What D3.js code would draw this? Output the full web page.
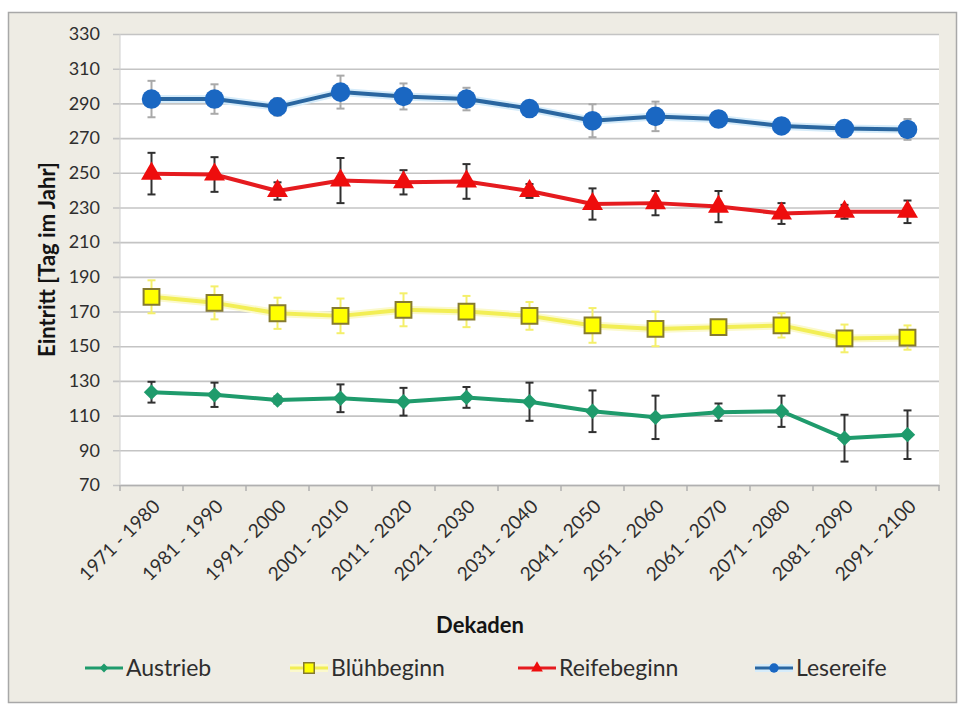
<!DOCTYPE html>
<html>
<head>
<meta charset="utf-8">
<script src="https://cdn.jsdelivr.net/npm/d3@7"></script>
<style>
  html, body { margin: 0; padding: 0; background: #ffffff; }
  svg { display: block; }
  text { font-family: Lato, "Open Sans", sans-serif; }
</style>
</head>
<body>
<svg id="chart" width="959" height="705"></svg>
<script>
// Decades on the x axis
const decades = ["1971 - 1980", "1981 - 1990", "1991 - 2000", "2001 - 2010", "2011 - 2020",
  "2021 - 2030", "2031 - 2040", "2041 - 2050", "2051 - 2060", "2061 - 2070",
  "2071 - 2080", "2081 - 2090", "2091 - 2100"];

// Day of year per phenological stage, with error half-widths
const austrieb    = [123.5, 122, 119, 120, 118, 120.5, 118, 112.5, 109, 112, 112.5, 97, 99];
const austriebErr = [6, 7, 2, 8, 8, 6, 11, 12, 12.5, 5, 9, 13.5, 14];

const bluehbeginn    = [178.5, 175, 169, 167.5, 171, 170, 167.5, 162, 160, 161, 162, 154.5, 155];
const bluehbeginnErr = [9.5, 9.5, 9, 10, 9.5, 9, 8, 10, 10, 3, 7, 8, 7];

const reifebeginn    = [249.5, 249, 239.5, 245.5, 244.5, 245, 239.5, 232, 232.5, 230.5, 226.5, 227.5, 227.5];
const reifebeginnErr = [12, 10, 5, 13, 7, 10, 4, 9, 7, 9, 6, 4, 6.5];

const lesereife    = [292.5, 292.5, 288, 296.5, 294, 292.5, 287, 280, 282.5, 281, 277, 275.5, 275];
const lesereifeErr = [10.5, 8.5, 5, 9.5, 7.5, 6.5, 2, 9.5, 8.5, 3, 2, 2, 6];

const yTicks = d3.range(70, 331, 20);

const series = [
  { name: "Austrieb",    values: austrieb,    err: austriebErr,    line: "#1f9b6c", glow: null,      fill: "#1f9b6c", stroke: "none",    shape: d3.symbolDiamond2, size: 150, legendSize: 50, errColor: "#303030" },
  { name: "Blühbeginn",  values: bluehbeginn, err: bluehbeginnErr, line: "#f2ee55", glow: "#fbf9cc", fill: "#ffff00", stroke: "#857a30", shape: d3.symbolSquare,   size: 250, legendSize: 110, errColor: "#f4ef6a" },
  { name: "Reifebeginn", values: reifebeginn, err: reifebeginnErr, line: "#e51b1f", glow: null,      fill: "#ee0d0d", stroke: "none",    shape: d3.symbolTriangle, size: 190, legendSize: 60, errColor: "#303030" },
  { name: "Lesereife",   values: lesereife,   err: lesereifeErr,   line: "#2a66a0", glow: "#d6ecfa", fill: "#1a67c2", stroke: "none",    shape: d3.symbolCircle,   size: 300, legendSize: 70, errColor: "#a9a9a9" }
];

const svg = d3.select("#chart");

// Chart frame
svg.append("rect")
  .attr("x", 8.5).attr("y", 12.5).attr("width", 948).attr("height", 690)
  .attr("fill", "#eeece4").attr("stroke", "#a8a8a8").attr("stroke-width", 1.5);

const plot = { left: 120, right: 939, top: 34, bottom: 485 };

const x = d3.scaleBand().domain(decades).range([plot.left, plot.right]).padding(0);
const y = d3.scaleLinear().domain([70, 330]).range([plot.bottom, plot.top]);
const cx = d => x(d) + x.bandwidth() / 2;

// Plot area
svg.append("rect")
  .attr("x", plot.left).attr("y", plot.top)
  .attr("width", plot.right - plot.left).attr("height", plot.bottom - plot.top)
  .attr("fill", "#ffffff");

// Horizontal gridlines and y axis
const yAxis = d3.axisLeft(y).tickValues(yTicks).tickSize(-(plot.right - plot.left)).tickPadding(20);
const gy = svg.append("g").attr("transform", `translate(${plot.left},0)`).call(yAxis);
gy.select(".domain").remove();
gy.selectAll(".tick line")
  .attr("x1", -7)
  .attr("stroke", "#c4c4c4").attr("stroke-width", 1.6);
gy.selectAll(".tick text")
  .attr("fill", "#2e2e2e").attr("font-size", 18);
svg.append("line")
  .attr("x1", plot.left).attr("x2", plot.left)
  .attr("y1", plot.top).attr("y2", plot.bottom)
  .attr("stroke", "#d0d0d0").attr("stroke-width", 1);

// Bottom axis
const xAxis = d3.axisBottom(x).tickSize(0).tickFormat(d => d);
const gx = svg.append("g").attr("transform", `translate(0,${plot.bottom})`).call(xAxis);
gx.select(".domain").attr("stroke", "#b0b0b0").attr("stroke-width", 1.5);
gx.selectAll(".tick text")
  .attr("fill", "#2e2e2e").attr("font-size", 19)
  .attr("text-anchor", "end")
  .attr("transform", "translate(5,18) rotate(-45)")
  .attr("dy", "0.35em").attr("y", 0);
// Category boundary ticks
gx.selectAll(".cat-tick")
  .data(decades.concat([null]))
  .enter().append("line")
  .attr("x1", (d, i) => i < decades.length ? x(d) : plot.right)
  .attr("x2", (d, i) => i < decades.length ? x(d) : plot.right)
  .attr("y1", 0).attr("y2", 6)
  .attr("stroke", "#b0b0b0").attr("stroke-width", 1.5);

// Axis titles
svg.append("text")
  .attr("transform", `translate(55,${(plot.top + plot.bottom) / 2}) rotate(-90)`)
  .attr("text-anchor", "middle")
  .attr("font-size", 22).attr("font-weight", "bold").attr("fill", "#141414")
  .text("Eintritt [Tag im Jahr]");

svg.append("text")
  .attr("x", 480).attr("y", 633)
  .attr("text-anchor", "middle")
  .attr("font-size", 22).attr("font-weight", "bold").attr("fill", "#141414")
  .text("Dekaden");

// Series
const lineGen = d3.line().x((d, i) => cx(decades[i])).y(d => y(d));

series.forEach(s => {
  const g = svg.append("g");
  if (s.glow) {
    g.append("path").datum(s.values)
      .attr("d", lineGen).attr("fill", "none")
      .attr("stroke", s.glow).attr("stroke-width", 8).attr("stroke-linejoin", "round");
  }
  g.append("path").datum(s.values)
    .attr("d", lineGen).attr("fill", "none")
    .attr("stroke", s.line).attr("stroke-width", 4).attr("stroke-linejoin", "round");

  // Error bars (under the markers)
  const eb = g.selectAll(".err").data(s.values).enter().append("g")
    .attr("stroke", s.errColor).attr("stroke-width", 2);
  eb.append("line")
    .attr("x1", (d, i) => cx(decades[i])).attr("x2", (d, i) => cx(decades[i]))
    .attr("y1", (d, i) => y(d + s.err[i])).attr("y2", (d, i) => y(d - s.err[i]));
  eb.append("line")
    .attr("x1", (d, i) => cx(decades[i]) - 4).attr("x2", (d, i) => cx(decades[i]) + 4)
    .attr("y1", (d, i) => y(d + s.err[i])).attr("y2", (d, i) => y(d + s.err[i]));
  eb.append("line")
    .attr("x1", (d, i) => cx(decades[i]) - 4).attr("x2", (d, i) => cx(decades[i]) + 4)
    .attr("y1", (d, i) => y(d - s.err[i])).attr("y2", (d, i) => y(d - s.err[i]));

  g.selectAll(".marker").data(s.values).enter().append("path")
    .attr("d", d3.symbol().type(s.shape).size(s.size))
    .attr("transform", (d, i) => `translate(${cx(decades[i])},${y(d)})`)
    .attr("fill", s.fill)
    .attr("stroke", s.stroke).attr("stroke-width", s.stroke === "none" ? 0 : 2);
});

// Legend
const legendX = [85, 290, 518, 755];
const legendY = 668;
const lg = svg.append("g");
series.forEach((s, i) => {
  const item = lg.append("g").attr("transform", `translate(${legendX[i]},${legendY})`);
  if (s.glow) {
    item.append("line").attr("x1", 0).attr("x2", 38).attr("y1", 0).attr("y2", 0)
      .attr("stroke", s.glow).attr("stroke-width", 8);
  }
  item.append("line").attr("x1", 0).attr("x2", 38).attr("y1", 0).attr("y2", 0)
    .attr("stroke", s.line).attr("stroke-width", 3);
  item.append("path")
    .attr("d", d3.symbol().type(s.shape).size(s.legendSize))
    .attr("transform", "translate(19,0)")
    .attr("fill", s.fill)
    .attr("stroke", s.stroke).attr("stroke-width", s.stroke === "none" ? 0 : 1.5);
  item.append("text")
    .attr("x", 41).attr("y", 0).attr("dy", "0.35em")
    .attr("font-size", 23).attr("fill", "#2e2e2e")
    .text(s.name);
});
</script>
</body>
</html>
